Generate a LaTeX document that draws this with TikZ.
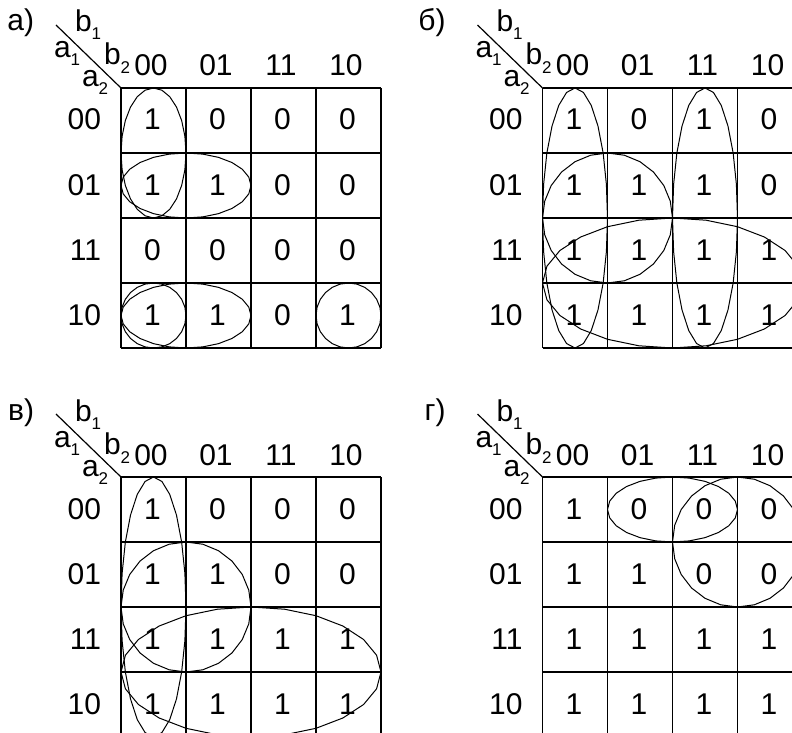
\documentclass[tikz,border=0pt]{standalone}
\usepackage{fontspec}
\setmainfont{Liberation Sans}
\tikzset{
  gridline/.style={line width=1.5pt},
  diagline/.style={line width=1.2pt},
  ell/.style={line width=1pt, line join=round},
  txt/.style={inner sep=0pt, outer sep=0pt, font=\fontsize{30}{30}\selectfont},
}
\newcommand\subd[2][-8pt]{\raisebox{#1}{\fontsize{17}{17}\selectfont #2}}
\newcommand\kell[4]{%
  \draw[ell] plot[samples=25, domain=0:360, variable=\t]
    ({(#1+#3)*32.5 + (#3-#1)*32.5*cos(\t)}, {(#2+#4)*32.5 + (#4-#2)*32.5*sin(\t)}) -- cycle;}
% #1 id, #2 ox, #3 oy, #4 label, #5 label x, #6 values, #7 ellipses
\newcommand\kmap[7]{%
\begin{scope}[shift={(#2,#3)}]
  \foreach \k in {0,...,4} {
    \draw[gridline] (\k*65,0) -- (\k*65,260);
    \draw[gridline] (0,\k*65) -- (260,\k*65);
  }
  \coordinate (#1-corner) at (0,0);
  \coordinate (#1-dstart) at (-65,-63);
  \draw[diagline] (#1-dstart) -- (#1-corner);
  \node[txt,anchor=base east] (#1-lab) at (#5,-57) {#4};
  \node[txt,anchor=base west] (#1-b1) at (-46,-56) {b\subd{1}};
  \node[txt,anchor=base west] (#1-a1) at (-67,-30) {a\subd{1}};
  \node[txt,anchor=base west] (#1-b2) at (-17,-23) {b\subd[-9pt]{2}};
  \node[txt,anchor=base west] (#1-a2) at (-39,-1) {a\subd{2}};
  \foreach \h [count=\i from 0] in {00,01,11,10} {
    \node[txt,anchor=base] (#1-h\i) at (\i*65+30,-12) {\h};
    \node[txt,anchor=base east] (#1-r\i) at (-20,\i*65+42) {\h};
  }
  \foreach \v [count=\i from 0] in {#6} {
    \pgfmathtruncatemacro\rr{floor(\i/4)}
    \pgfmathtruncatemacro\cc{mod(\i,4)}
    \node[txt,anchor=base] (#1-\rr-\cc) at (\cc*65+31.5,\rr*65+42) {\v};
  }
  #7
\end{scope}}

\begin{document}
\begin{tikzpicture}[x=1pt,y=-1pt]
\useasboundingbox (0,0) rectangle (792,733);
\clip (0,0) rectangle (792,733);
\kmap{A}{121}{88}{а)}{-87}{1,0,0,0, 1,1,0,0, 0,0,0,0, 1,1,0,1}{%
  \kell{0}{0}{1}{2}\kell{0}{1}{2}{2}\kell{0}{3}{1}{4}\kell{0}{3}{2}{4}\kell{3}{3}{4}{4}}
\kmap{B}{542.5}{88}{б)}{-97}{1,0,1,0, 1,1,1,0, 1,1,1,1, 1,1,1,1}{%
  \kell{0}{0}{1}{4}\kell{2}{0}{3}{4}\kell{0}{1}{2}{3}\kell{0}{2}{4}{4}}
\kmap{C}{121}{477}{в)}{-87}{1,0,0,0, 1,1,0,0, 1,1,1,1, 1,1,1,1}{%
  \kell{0}{0}{1}{4}\kell{0}{1}{2}{3}\kell{0}{2}{4}{4}}
\kmap{D}{542.5}{477}{г)}{-97}{1,0,0,0, 1,1,0,0, 1,1,1,1, 1,1,1,1}{%
  \kell{1}{0}{3}{1}\kell{2}{0}{4}{2}}
\end{tikzpicture}
\end{document}
